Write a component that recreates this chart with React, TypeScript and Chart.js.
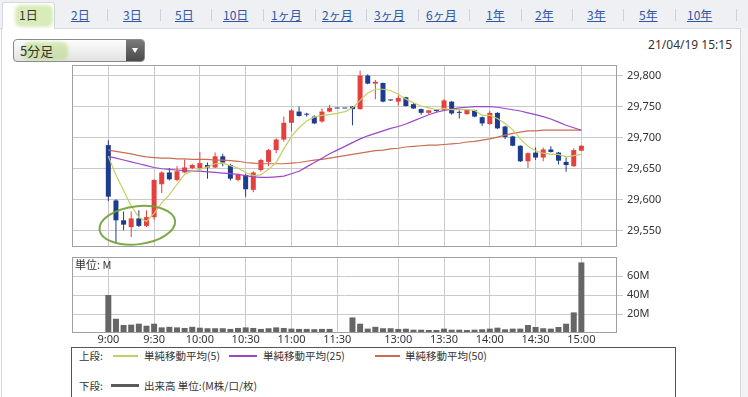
import React, { useEffect, useRef } from 'react';
import { Chart, registerables } from 'chart.js';

Chart.register(...registerables);

// ---------- data (5-minute bars, slot index 0 = 9:00) ----------
const opens = [
  29688, 29599, 29567, 29556, 29570, 29558, 29572, 29625, 29644, 29632,
  29644, 29651, 29651, 29656, 29652, 29670, 29656, 29632, 29640, 29616,
  29648, 29661, 29680, 29697, 29724, 29742, 29737, 29734, 29726, 29742,
  29747, 29747, 29750, 29746, 29800, 29787, 29788, 29760, 29758, 29765,
  29754, 29746, 29740, 29745, 29745, 29758, 29740, 29738, 29744, 29733,
  29722, 29740, 29718, 29702, 29687, 29662, 29676, 29668, 29681, 29676,
  29661, 29654, 29679,
];
const highs = [
  29696, 29601, 29581, 29581, 29583, 29583, 29633, 29646, 29651, 29654,
  29665, 29658, 29677, 29660, 29676, 29674, 29658, 29642, 29642, 29646,
  29666, 29682, 29699, 29734, 29746, 29750, 29740, 29736, 29747, 29753,
  29747, 29747, 29751, 29808, 29802, 29793, 29789, 29761, 29768, 29766,
  29756, 29747, 29744, 29746, 29762, 29759, 29744, 29746, 29745, 29734,
  29743, 29741, 29719, 29703, 29688, 29676, 29684, 29684, 29686, 29677,
  29668, 29683, 29688,
];
const lows = [
  29598, 29531, 29551, 29540, 29556, 29556, 29568, 29611, 29631, 29630,
  29643, 29649, 29650, 29634, 29651, 29654, 29631, 29630, 29605, 29612,
  29645, 29654, 29675, 29694, 29710, 29734, 29734, 29722, 29724, 29741,
  29747, 29747, 29720, 29745, 29786, 29762, 29757, 29759, 29752, 29750,
  29746, 29737, 29738, 29741, 29744, 29737, 29731, 29737, 29733, 29719,
  29721, 29714, 29698, 29686, 29661, 29651, 29664, 29662, 29676, 29657,
  29645, 29653, 29678,
];
const closes = [
  29605, 29567, 29560, 29570, 29558, 29572, 29632, 29644, 29633, 29646,
  29652, 29656, 29659, 29652, 29670, 29660, 29634, 29640, 29617, 29644,
  29664, 29680, 29697, 29724, 29744, 29735, 29737, 29723, 29742, 29748,
  29747, 29747, 29746, 29800, 29787, 29790, 29758, 29760, 29764, 29751,
  29747, 29740, 29744, 29743, 29760, 29739, 29740, 29745, 29734, 29723,
  29740, 29715, 29701, 29687, 29662, 29675, 29668, 29681, 29677, 29663,
  29656, 29680, 29687,
];
const ma5 = [
  29670, 29640, 29615, 29590, 29572, 29565, 29578, 29595, 29608, 29625,
  29641, 29646, 29649, 29653, 29658, 29659, 29655, 29651, 29644, 29639,
  29640, 29649, 29660, 29682, 29702, 29716, 29727, 29733, 29736, 29737,
  29739, 29742, 29748, 29760, 29772, 29778, 29778, 29776, 29770, 29762,
  29756, 29751, 29748, 29745, 29747, 29745, 29745, 29745, 29744, 29736,
  29736, 29731, 29723, 29713, 29698, 29686, 29679, 29675, 29673, 29673,
  29669, 29671, 29673,
];
const ma25 = [
  29670, 29667, 29664, 29661, 29658, 29655, 29652, 29650, 29649, 29648,
  29647, 29646, 29646, 29645, 29644, 29643, 29642, 29641, 29639, 29637,
  29636, 29636, 29637, 29638, 29642, 29646, 29653, 29660, 29667, 29674,
  29680, 29686, 29692, 29698, 29703, 29707, 29711, 29715, 29718, 29722,
  29727, 29732, 29737, 29741, 29744, 29746, 29748, 29749, 29750, 29750,
  29750, 29749, 29747, 29745, 29743, 29740, 29737, 29734, 29730, 29725,
  29720, 29716, 29712,
];
const ma50 = [
  29680, 29678, 29676, 29674, 29671, 29669, 29668, 29667, 29667, 29666,
  29666, 29665, 29665, 29665, 29664, 29664, 29663, 29662, 29660, 29659,
  29658, 29658, 29658, 29658, 29659, 29660, 29662, 29664, 29665, 29667,
  29669, 29671, 29673, 29675, 29677, 29679, 29680, 29682, 29683, 29685,
  29686, 29687, 29688, 29688, 29689, 29690, 29691, 29693, 29694, 29696,
  29698, 29701, 29704, 29707, 29709, 29711, 29711, 29712, 29712, 29712,
  29712, 29712, 29712,
];
const volumes = [
  40, 15, 8.4, 8.8, 9.8, 7.7, 9.8, 5.9, 6.5, 5.9,
  5.3, 6.5, 5.6, 5, 5, 5, 4.3, 5.3, 5.9, 5.3,
  4.3, 5, 5.9, 5.3, 4.6, 4.3, 4.3, 4, 4.3, 4.3,
  0, 0, 16.4, 9.8, 4.6, 6.5, 5, 5, 4.3, 4.5,
  3.5, 3.5, 3.2, 3.2, 4.6, 3.5, 3.5, 3.2, 3.5, 3.9,
  4.6, 5.6, 3.9, 4.6, 4.6, 8.4, 6.3, 5, 4.6, 6.3,
  9.8, 21.7, 74.3,
];
const timeTickSlots = [0, 6, 12, 18, 24, 30, 38, 44, 50, 56, 62];
const timeTickLabels = ['9:00', '9:30', '10:00', '10:30', '11:00', '11:30', '13:00', '13:30', '14:00', '14:30', '15:00'];
const priceTicks = [29550, 29600, 29650, 29700, 29750, 29800];
const volumeTicks = [20, 40, 60];
const maLabels = ['単純移動平均(5)', '単純移動平均(25)', '単純移動平均(50)'];
const periodTabs = ['1日', '2日', '3日', '5日', '10日', '1ヶ月', '2ヶ月', '3ヶ月', '6ヶ月', '1年', '2年', '3年', '5年', '10年'];

// ---------- styling ----------
const X_MIN = -4.76;
const X_MAX = 66.67;
const PRICE_MIN = 29524;
const PRICE_MAX = 29817;
const UP = '#e3403e';
const DOWN = '#1e3c8e';
const MA_COLORS = ['#c3cf66', '#9b47c8', '#cc6c53'];
const GRID = '#c9c9c9';
const FRAME = '#a0a0a0';
const TEXT = '#333333';
const FONT = "'Noto Sans', 'Noto Sans CJK JP', sans-serif";
const CJK = "'Noto Sans CJK JP', 'Noto Sans', sans-serif";

const tabLeft = [19, 71, 123, 175, 223, 271, 322, 374, 426, 486, 535, 587, 639, 687];
const tabSeparators = [107, 160, 211, 263, 315, 366, 418, 469, 521, 572, 623, 675, 736];

const slots = opens.map((_, i) => i);
const candleColors = slots.map((i) => (closes[i] > opens[i] ? UP : DOWN));

const framePlugin = {
  id: 'frame',
  afterDatasetsDraw(chart: any) {
    const { ctx, chartArea: a } = chart;
    ctx.save();
    ctx.strokeStyle = FRAME;
    ctx.lineWidth = 1;
    ctx.strokeRect(Math.round(a.left) + 0.5, Math.round(a.top) + 0.5, Math.round(a.right - a.left) - 1, Math.round(a.bottom - a.top) - 1);
    ctx.restore();
  },
};

const circlePlugin = {
  id: 'circleNote',
  afterDraw(chart: any) {
    const { ctx, scales } = chart;
    const cx = scales.x.getPixelForValue(3.8);
    const cy = scales.y.getPixelForValue(29559);
    ctx.save();
    ctx.strokeStyle = 'rgba(112,160,52,0.9)';
    ctx.lineWidth = 2;
    ctx.beginPath();
    ctx.ellipse(cx, cy, 38, 19, -0.12, 0, Math.PI * 2);
    ctx.stroke();
    ctx.restore();
  },
};

const unitPlugin = {
  id: 'unitLabel',
  afterDraw(chart: any) {
    const { ctx, chartArea: a } = chart;
    ctx.save();
    ctx.font = `11px ${CJK}`;
    ctx.fillStyle = TEXT;
    ctx.textBaseline = 'middle';
    ctx.fillText('単位: M', a.left + 3, a.top + 8);
    ctx.restore();
  },
};

function zeroPad(axis: any) {
  axis.paddingTop = 0;
  axis.paddingBottom = 0;
  axis.paddingLeft = 0;
  axis.paddingRight = 0;
}

function xScale(showLabels: boolean, height: number) {
  return {
    type: 'linear',
    min: X_MIN,
    max: X_MAX,
    offset: false,
    grid: { offset: false, color: GRID, lineWidth: 1, drawTicks: false },
    border: { display: false },
    ticks: {
      display: showLabels,
      autoSkip: false,
      maxRotation: 0,
      padding: 0,
      color: TEXT,
      font: { family: FONT, size: 11 },
      callback: (_v: any, idx: number) => timeTickLabels[idx] ?? '',
    },
    afterBuildTicks: (axis: any) => {
      axis.ticks = timeTickSlots.map((v) => ({ value: v }));
    },
    afterFit: (axis: any) => {
      axis.height = height;
      zeroPad(axis);
    },
  };
}

function yScale(min: number, max: number, ticks: number[], fmt: (v: number) => string) {
  return {
    position: 'right',
    min,
    max,
    beginAtZero: false,
    grid: { color: GRID, lineWidth: 1, drawTicks: true, tickLength: 6 },
    border: { display: false },
    ticks: {
      padding: 4,
      color: TEXT,
      font: { family: FONT, size: 11 },
      callback: (v: any) => fmt(Number(v)),
    },
    afterBuildTicks: (axis: any) => {
      axis.ticks = ticks.map((v) => ({ value: v }));
    },
    afterFit: (axis: any) => {
      axis.width = 131;
      zeroPad(axis);
    },
  };
}

export default function App() {
  const mainRef = useRef<HTMLCanvasElement>(null);
  const volRef = useRef<HTMLCanvasElement>(null);

  useEffect(() => {
    const main = new Chart(mainRef.current as HTMLCanvasElement, {
      type: 'bar',
      data: {
        datasets: [
          ...[ma5, ma25, ma50].map((arr, k) => ({
            type: 'line' as const,
            label: maLabels[k],
            data: slots.map((i) => ({ x: i, y: arr[i] })),
            borderColor: MA_COLORS[k],
            borderWidth: 1.2,
            pointRadius: 0,
            tension: 0,
            order: 0,
          })),
          {
            type: 'bar' as const,
            label: 'body',
            data: slots.map((i) => ({ x: i, y: [opens[i], closes[i]] })),
            backgroundColor: candleColors,
            barThickness: 5,
            minBarLength: 1,
            grouped: false,
            inflateAmount: 0,
            borderWidth: 0,
            order: 1,
          },
          {
            type: 'bar' as const,
            label: 'wick',
            data: slots.map((i) => ({ x: i, y: [lows[i], highs[i]] })),
            backgroundColor: candleColors,
            barThickness: 1,
            grouped: false,
            inflateAmount: 0,
            borderWidth: 0,
            order: 2,
          },
        ] as any,
      },
      options: {
        responsive: false,
        animation: false,
        events: [],
        layout: { padding: { left: 72, top: 15, right: 0, bottom: 12 } },
        plugins: { legend: { display: false }, tooltip: { enabled: false } },
        scales: {
          x: xScale(false, 0) as any,
          y: yScale(PRICE_MIN, PRICE_MAX, priceTicks, (v) => v.toLocaleString('en-US')) as any,
        },
      },
      plugins: [framePlugin, circlePlugin],
    });

    const vol = new Chart(volRef.current as HTMLCanvasElement, {
      type: 'bar',
      data: {
        datasets: [
          {
            label: '出来高',
            data: slots.map((i) => ({ x: i, y: volumes[i] })) as any,
            backgroundColor: '#666666',
            barThickness: 6,
            grouped: false,
            inflateAmount: 0,
            borderWidth: 0,
          },
        ],
      },
      options: {
        responsive: false,
        animation: false,
        events: [],
        layout: { padding: { left: 72, top: 12, right: 0, bottom: 0 } },
        plugins: { legend: { display: false }, tooltip: { enabled: false } },
        scales: {
          x: xScale(true, 20) as any,
          y: yScale(0, 80, volumeTicks, (v) => `${v}M`) as any,
        },
      },
      plugins: [framePlugin, unitPlugin],
    });

    return () => {
      main.destroy();
      vol.destroy();
    };
  }, []);

  const legendRow: React.CSSProperties = {
    position: 'absolute',
    left: 0,
    height: 14,
    lineHeight: '14px',
    fontSize: 10.5,
    color: TEXT,
    whiteSpace: 'nowrap',
  };

  return (
    <div
      style={{
        position: 'absolute',
        left: 0,
        top: 0,
        width: 748,
        height: 397,
        background: '#ffffff',
        overflow: 'hidden',
        fontFamily: CJK,
      }}
    >
      {/* tab bar */}
      <div style={{ position: 'absolute', left: 0, top: 0, width: 748, height: 28, background: '#eef0f4', borderBottom: '1px solid #d6d9df' }} />
      <div
        style={{
          position: 'absolute',
          left: 2,
          top: 2,
          width: 53,
          height: 27,
          background: '#ffffff',
          border: '1px solid #d6d9df',
          borderBottom: 'none',
          borderRadius: '3px 3px 0 0',
          boxSizing: 'border-box',
        }}
      />
      {/* side borders */}
      <div style={{ position: 'absolute', left: 1, top: 28, width: 1, height: 369, background: '#d4d4d4' }} />
      <div style={{ position: 'absolute', left: 740, top: 28, width: 8, height: 369, background: '#f3f3f5', borderLeft: '1px solid #d8d8d8' }} />

      {/* highlighter marks */}
      <div style={{ position: 'absolute', left: 15, top: 5, width: 38, height: 22, background: 'rgba(170,210,100,0.45)', borderRadius: 6, filter: 'blur(1.5px)' }} />

      {periodTabs.map((t, i) => (
        <span
          key={t}
          style={{
            position: 'absolute',
            left: tabLeft[i],
            top: 7,
            fontSize: 12,
            lineHeight: '16px',
            color: i === 0 ? '#333333' : '#2f57a6',
            textDecoration: i === 0 ? 'none' : 'underline',
            whiteSpace: 'nowrap',
          }}
        >
          {t}
        </span>
      ))}
      {tabSeparators.map((x) => (
        <div key={x} style={{ position: 'absolute', left: x, top: 9, width: 1, height: 12, background: '#cfd2d8' }} />
      ))}

      {/* interval selector */}
      <div
        style={{
          position: 'absolute',
          left: 13,
          top: 39,
          width: 132,
          height: 23,
          boxSizing: 'border-box',
          border: '1px solid #8a8a8a',
          borderRadius: 4,
          background: 'linear-gradient(#fdfdfd, #e2e2e2)',
          overflow: 'hidden',
        }}
      >
        <div style={{ position: 'absolute', right: 0, top: 0, width: 18, height: 21, background: 'linear-gradient(#7a7a7a, #4a4a4a)' }}>
          <div
            style={{
              position: 'absolute',
              left: 6,
              top: 8,
              width: 0,
              height: 0,
              borderLeft: '3.5px solid transparent',
              borderRight: '3.5px solid transparent',
              borderTop: '5px solid #ffffff',
            }}
          />
        </div>
      </div>
      <div style={{ position: 'absolute', left: 23, top: 42, width: 45, height: 18, background: 'rgba(170,210,100,0.45)', borderRadius: 6, filter: 'blur(1.5px)' }} />
      <span style={{ position: 'absolute', left: 20, top: 42, fontSize: 13, lineHeight: '18px', color: '#333333' }}>5分足</span>

      <span style={{ position: 'absolute', right: 16, top: 37, fontSize: 12, lineHeight: '16px', color: '#333333', fontFamily: FONT }}>21/04/19 15:15</span>

      {/* charts */}
      <canvas ref={mainRef} width={748} height={209} style={{ position: 'absolute', left: 0, top: 50, width: 748, height: 209 }} />
      <canvas ref={volRef} width={748} height={108} style={{ position: 'absolute', left: 0, top: 245, width: 748, height: 108 }} />

      {/* legend */}
      <div
        style={{
          position: 'absolute',
          left: 71,
          top: 347,
          width: 605,
          height: 52,
          boxSizing: 'border-box',
          border: '1px solid #555555',
          background: '#ffffff',
        }}
      >
        <div style={{ ...legendRow, top: 1 }}>
          <span style={{ position: 'absolute', left: 7 }}>上段:</span>
          {maLabels.map((lab, k) => {
            const lineLeft = [41, 157, 303][k];
            const textLeft = [72, 191, 333][k];
            const lineW = [25, 28, 25][k];
            return (
              <React.Fragment key={lab}>
                <span style={{ position: 'absolute', left: lineLeft, top: 6, width: lineW, height: 2, background: MA_COLORS[k] }} />
                <span style={{ position: 'absolute', left: textLeft }}>{lab}</span>
              </React.Fragment>
            );
          })}
        </div>
        <div style={{ ...legendRow, top: 31 }}>
          <span style={{ position: 'absolute', left: 7 }}>下段:</span>
          <span style={{ position: 'absolute', left: 39, top: 5, width: 28, height: 3, background: '#5a5a5a' }} />
          <span style={{ position: 'absolute', left: 72 }}>出来高 単位:(M株/口/枚)</span>
        </div>
      </div>
    </div>
  );
}
